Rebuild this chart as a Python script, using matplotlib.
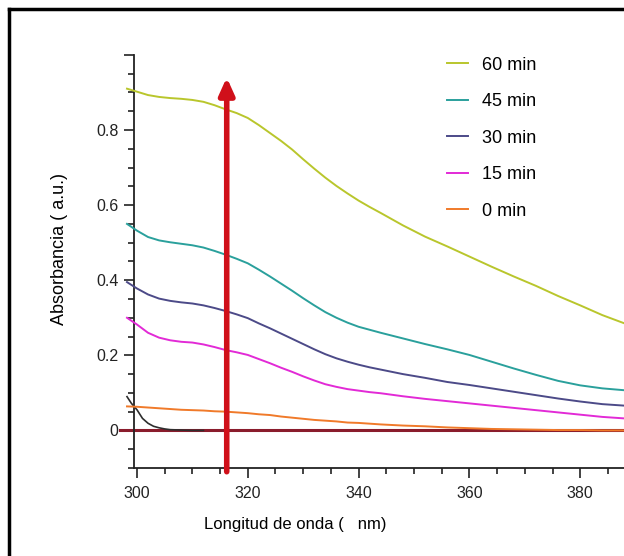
import matplotlib

matplotlib.use("Agg")
import matplotlib.pyplot as plt
from matplotlib.lines import Line2D
from matplotlib.ticker import MultipleLocator, FixedLocator
import numpy as np

plt.rcParams["font.family"] = ["Liberation Sans", "DejaVu Sans"]

# wavelength grid (nm) and absorbance
wl = [298.2, 300, 302, 304, 306, 308, 310, 312, 314, 316, 318, 320, 322, 324, 326,
      328, 330, 332, 334, 336, 338, 340, 342, 344, 348, 352, 356, 360, 364, 368,
      372, 376, 380, 384, 388]

a_60 = [0.910, 0.902, 0.893, 0.888, 0.885, 0.883, 0.880, 0.875, 0.866, 0.855, 0.845,
        0.832, 0.813, 0.792, 0.771, 0.748, 0.722, 0.697, 0.673, 0.651, 0.631, 0.612,
        0.595, 0.579, 0.546, 0.516, 0.490, 0.463, 0.436, 0.410, 0.385, 0.358, 0.333,
        0.307, 0.285]
a_45 = [0.550, 0.532, 0.515, 0.506, 0.501, 0.497, 0.493, 0.487, 0.478, 0.468, 0.457,
        0.445, 0.428, 0.410, 0.391, 0.372, 0.352, 0.333, 0.315, 0.300, 0.287, 0.276,
        0.268, 0.260, 0.245, 0.230, 0.216, 0.201, 0.183, 0.165, 0.148, 0.132, 0.120,
        0.112, 0.107]
a_30 = [0.395, 0.378, 0.362, 0.351, 0.345, 0.341, 0.338, 0.333, 0.326, 0.318, 0.309,
        0.299, 0.285, 0.272, 0.258, 0.244, 0.230, 0.216, 0.203, 0.192, 0.183, 0.175,
        0.168, 0.162, 0.150, 0.140, 0.129, 0.121, 0.112, 0.103, 0.094, 0.085, 0.077,
        0.070, 0.066]
a_15 = [0.300, 0.282, 0.260, 0.247, 0.240, 0.236, 0.234, 0.229, 0.222, 0.214, 0.208,
        0.201, 0.190, 0.179, 0.167, 0.156, 0.144, 0.133, 0.123, 0.116, 0.110, 0.106,
        0.102, 0.099, 0.091, 0.084, 0.078, 0.072, 0.066, 0.060, 0.054, 0.048, 0.042,
        0.036, 0.032]
a_0 = [0.064, 0.063, 0.061, 0.059, 0.057, 0.055, 0.054, 0.053, 0.051, 0.050, 0.048,
       0.046, 0.043, 0.041, 0.037, 0.034, 0.031, 0.028, 0.026, 0.024, 0.021, 0.020,
       0.018, 0.016, 0.013, 0.011, 0.008, 0.006, 0.004, 0.003, 0.002, 0.001, 0.001,
       0.000, 0.000]

# dark baseline curve near 300 nm
wl_blank = [298.2, 299, 300, 301, 302, 303, 304, 305, 306, 308, 310, 312]
a_blank = [0.090, 0.072, 0.055, 0.032, 0.019, 0.011, 0.007, 0.004, 0.002, 0.001, 0.0, 0.0]

# zero reference line
wl_zero = [297.0, 388.0]
a_zero = [0.0, 0.0]

series = [
    ("60 min", a_60, "#b9c62c"),
    ("45 min", a_45, "#2aa09c"),
    ("30 min", a_30, "#4c4a88"),
    ("15 min", a_15, "#e22ad6"),
    ("0 min", a_0, "#f07a2a"),
]

arrow_x = 316.2
arrow_from = -0.11
arrow_to = 0.94

x_major = [300, 320, 340, 360, 380]
y_major = [0.0, 0.2, 0.4, 0.6, 0.8, 1.0]
y_labels = ["0", "0.2", "0.4", "0.6", "0.8", ""]

fig = plt.figure(figsize=(6.24, 5.56), dpi=100)
ax = fig.add_axes([0.2147, 0.1583, 0.7853, 0.743])

ax.plot(wl_zero, a_zero, color="#8a1c2c", linewidth=2.2, clip_on=False, zorder=2)
ax.plot(wl_blank, a_blank, color="#2e2e2e", linewidth=1.2, clip_on=False, zorder=3)

handles = []
for label, values, color in series:
    (line,) = ax.plot(wl, values, color=color, linewidth=1.4, label=label,
                      clip_on=False, zorder=3)
    handles.append(line)

ax.annotate(
    "",
    xy=(arrow_x, arrow_to),
    xytext=(arrow_x, arrow_from),
    arrowprops=dict(arrowstyle="-|>,head_length=1.0,head_width=0.45",
                    color="#d0101a", linewidth=4.0, shrinkA=0, shrinkB=0),
    annotation_clip=False,
    zorder=5,
)

ax.set_xlim(299.46, 387.9)
ax.set_ylim(-0.1, 1.0)

ax.xaxis.set_major_locator(FixedLocator(x_major))
ax.xaxis.set_minor_locator(MultipleLocator(5))
ax.yaxis.set_major_locator(FixedLocator(y_major))
ax.set_yticklabels(y_labels)
ax.yaxis.set_minor_locator(MultipleLocator(0.05))

ax.tick_params(axis="both", which="major", direction="out", length=7, width=1.2,
               labelsize=11.5, colors="#222222", pad=4)
ax.tick_params(axis="both", which="minor", direction="out", length=4, width=1.2,
               colors="#222222")
ax.tick_params(axis="x", which="major", pad=6)

for side in ("top", "right"):
    ax.spines[side].set_visible(False)
for side in ("left", "bottom"):
    ax.spines[side].set_color("#222222")
    ax.spines[side].set_linewidth(1.3)

ax.set_xlabel("Longitud de onda (   nm)", fontsize=12)
ax.set_ylabel("Absorbancia ( a.u.)", fontsize=13)
ax.xaxis.set_label_coords(0.33, -0.118)
ax.yaxis.set_label_coords(-0.135, 0.53)

ax.legend(
    handles=handles,
    loc="upper left",
    bbox_to_anchor=(0.605, 1.035),
    frameon=False,
    fontsize=13,
    handlelength=1.2,
    handletextpad=0.75,
    labelspacing=1.08,
)

# outer frame of the original picture (top and left edges)
fig.add_artist(Line2D([0.0145, 0.0145], [0.0, 0.984], transform=fig.transFigure,
                      color="black", linewidth=2.5))
fig.add_artist(Line2D([0.0145, 1.0], [0.984, 0.984], transform=fig.transFigure,
                      color="black", linewidth=2.5))

fig.savefig("out.png", dpi=100)
